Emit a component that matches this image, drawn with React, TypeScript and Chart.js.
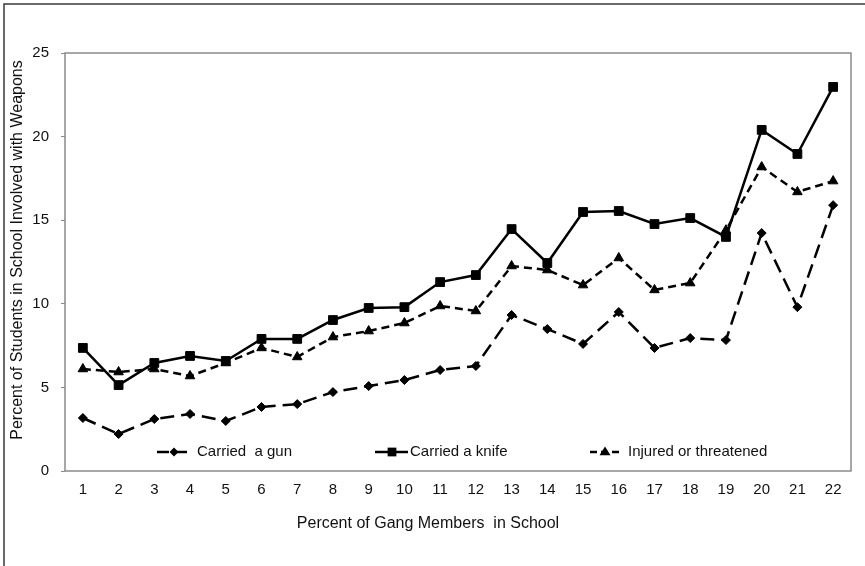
import React, { useEffect, useRef } from "react";
import { Chart, registerables } from "chart.js";

Chart.register(...registerables);

const categories = ["1","2","3","4","5","6","7","8","9","10","11","12","13","14","15","16","17","18","19","20","21","22"];
const gunValues = [3.17,2.21,3.11,3.41,2.99,3.83,4.0,4.72,5.08,5.44,6.04,6.28,9.33,8.49,7.6,9.51,7.36,7.95,7.83,14.23,9.8,15.9];
const knifeValues = [7.36,5.14,6.46,6.88,6.58,7.9,7.9,9.03,9.75,9.8,11.3,11.72,14.47,12.44,15.49,15.55,14.77,15.13,14.0,20.4,18.96,22.97];
const injuredValues = [6.1,5.92,6.1,5.68,6.46,7.36,6.82,8.01,8.37,8.85,9.87,9.57,12.26,12.02,11.12,12.74,10.83,11.24,14.4,18.18,16.69,17.34];
const seriesLabels = ["Carried  a gun", "Carried a knife", "Injured or threatened"];
const yTicks = [0, 5, 10, 15, 20, 25];
const xTitle = "Percent of Gang Members  in School";
const yTitle = "Percent of Students in School Involved with Weapons";

const FONT = "'Liberation Sans', Arial, sans-serif";

function marker(ctx: CanvasRenderingContext2D, style: string, x: number, y: number, r: number) {
  ctx.beginPath();
  if (style === "rect") {
    const s = r / Math.SQRT2;
    ctx.rect(x - s, y - s, 2 * s, 2 * s);
  } else if (style === "rectRot") {
    ctx.moveTo(x - r, y);
    ctx.lineTo(x, y - r);
    ctx.lineTo(x + r, y);
    ctx.lineTo(x, y + r);
    ctx.closePath();
  } else {
    ctx.moveTo(x, y - r);
    ctx.lineTo(x + r, y + r * 0.6);
    ctx.lineTo(x - r, y + r * 0.6);
    ctx.closePath();
  }
  ctx.fill();
}

const framePlugin = {
  id: "frame",
  beforeDraw(chart: any) {
    const { ctx, width, height } = chart;
    ctx.save();
    ctx.fillStyle = "#fff";
    ctx.fillRect(0, 0, width, height);
    ctx.strokeStyle = "#3a3a3a";
    ctx.lineWidth = 1.5;
    ctx.beginPath();
    ctx.moveTo(4, height);
    ctx.lineTo(4, 4);
    ctx.lineTo(width, 4);
    ctx.stroke();
    ctx.restore();
  },
  afterDraw(chart: any) {
    const { ctx } = chart;
    ctx.save();
    ctx.fillStyle = "#111";
    ctx.font = "16px " + FONT;
    ctx.textAlign = "center";
    ctx.textBaseline = "middle";
    ctx.fillText(xTitle, 428, 524);
    ctx.translate(18, 250);
    ctx.rotate(-Math.PI / 2);
    ctx.fillText(yTitle, 0, 0);
    ctx.restore();
  },
  afterDatasetsDraw(chart: any) {
    const { ctx, chartArea } = chart;
    ctx.save();
    ctx.strokeStyle = "#8a8a8a";
    ctx.lineWidth = 1.5;
    ctx.strokeRect(chartArea.left, chartArea.top, chartArea.right - chartArea.left, chartArea.bottom - chartArea.top);
    const y = 452;
    const items = [
      { x0: 157, x1: 190, mx: 174, tx: 197, dash: [12, 6], style: "rectRot", r: 4.5, ds: 0 },
      { x0: 375, x1: 408, mx: 392, tx: 410, dash: [], style: "rect", r: 6.2, ds: 1 },
      { x0: 590, x1: 623, mx: 605, tx: 628, dash: [7, 4], style: "triangle", r: 5.5, ds: 2 },
    ];
    items.forEach((it) => {
      ctx.save();
      ctx.strokeStyle = "#000";
      ctx.lineWidth = 2.5;
      ctx.setLineDash(it.dash);
      ctx.beginPath();
      ctx.moveTo(it.x0, y);
      ctx.lineTo(it.x1, y);
      ctx.stroke();
      ctx.setLineDash([]);
      ctx.fillStyle = "#000";
      marker(ctx, it.style, it.mx, y, it.r);
      ctx.restore();
      ctx.save();
      ctx.fillStyle = "#111";
      ctx.font = "15px " + FONT;
      ctx.textBaseline = "middle";
      ctx.textAlign = "left";
      ctx.fillText(seriesLabels[it.ds], it.tx, y);
      ctx.restore();
    });
    ctx.restore();
  },
};

export default function App() {
  const ref = useRef<HTMLCanvasElement>(null);
  useEffect(() => {
    document.body.style.margin = "0";
    const chart = new Chart(ref.current!, {
      type: "line",
      data: {
        labels: categories,
        datasets: [
          {
            label: seriesLabels[0],
            data: gunValues,
            borderColor: "#000",
            backgroundColor: "#000",
            borderWidth: 2.5,
            borderDash: [14, 7],
            pointStyle: "rectRot",
            pointRadius: 4.5,
            pointBorderWidth: 1,
            tension: 0,
          },
          {
            label: seriesLabels[1],
            data: knifeValues,
            borderColor: "#000",
            backgroundColor: "#000",
            borderWidth: 2.5,
            pointStyle: "rect",
            pointRadius: 6.2,
            pointBorderWidth: 1,
            tension: 0,
          },
          {
            label: seriesLabels[2],
            data: injuredValues,
            borderColor: "#000",
            backgroundColor: "#000",
            borderWidth: 2.5,
            borderDash: [8, 5],
            pointStyle: "triangle",
            pointRadius: 5.5,
            pointBorderWidth: 1,
            tension: 0,
          },
        ],
      },
      options: {
        animation: false,
        responsive: false,
        layout: { padding: { left: 0, right: 14, top: 53, bottom: 0 } },
        plugins: { legend: { display: false }, tooltip: { enabled: false } },
        scales: {
          x: {
            offset: true,
            grid: { display: false, drawTicks: false, offset: true },
            border: { display: false },
            ticks: { color: "#111", font: { family: FONT, size: 15 }, padding: 10, maxRotation: 0, autoSkip: false },
            afterFit(scale: any) {
              scale.height = 95;
              scale.paddingLeft = 0;
              scale.paddingRight = 0;
            },
          },
          y: {
            min: 0,
            max: 25,
            afterBuildTicks(scale: any) {
              scale.ticks = yTicks.map((v) => ({ value: v }));
            },
            grid: { display: true, drawOnChartArea: false, drawTicks: true, tickLength: 4, color: "#8a8a8a", lineWidth: 1 },
            border: { display: false },
            ticks: { color: "#111", font: { family: FONT, size: 15 }, padding: 12 },
            afterFit(scale: any) {
              scale.width = 65;
            },
          },
        },
      },
      plugins: [framePlugin],
    });
    return () => chart.destroy();
  }, []);
  return (
    <div style={{ width: 865, height: 566, position: "relative" }}>
      <canvas ref={ref} width={865} height={566} style={{ display: "block", width: 865, height: 566 }} />
    </div>
  );
}
